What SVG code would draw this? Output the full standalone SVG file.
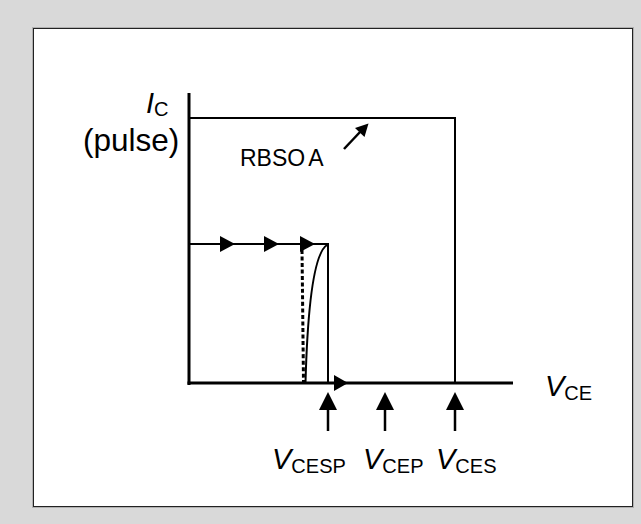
<svg xmlns="http://www.w3.org/2000/svg" width="641" height="524" viewBox="0 0 641 524">
<style>
.ln{stroke:#000;fill:none;stroke-linecap:butt}
.t{font-family:"Liberation Sans",Arial,sans-serif;fill:#000}
.ah{fill:#000;stroke:none}
</style>
<rect x="0" y="0" width="641" height="524" fill="#d9d9d9"/>
<g id="frame">
<rect x="32.5" y="27.5" width="601" height="480" fill="none" stroke="#b0b0b0" stroke-width="1"/>
<rect x="33.5" y="28.5" width="599" height="478" fill="#fff" stroke="#222" stroke-width="1"/>
</g>
<g id="axes">
<line class="ln" x1="189" y1="93" x2="189" y2="385" stroke-width="3"/>
<line class="ln" x1="187.5" y1="383" x2="513" y2="383" stroke-width="3"/>
<polygon class="ah" points="334,375 348,383 334,391"/>
</g>
<g id="rbsoa">
<polyline class="ln" points="189,118 455,118 455,383" stroke-width="2"/>
<text class="t" x="240" y="166" font-size="23">RBSO<tspan dx="3">A</tspan></text>
<line class="ln" x1="344" y1="149" x2="360" y2="132" stroke-width="2.5"/>
<polygon class="ah" points="368.5,123.5 364.5,137 355,128"/>
</g>
<g id="trajectory">
<polyline class="ln" points="189,244 328,244 328,383" stroke-width="2"/>
<polygon class="ah" points="220,236 235,244 220,252"/>
<polygon class="ah" points="264,236 279,244 264,252"/>
<polygon class="ah" points="300,236 315,244 300,252"/>
<path class="ln" d="M302,250 C302.5,290 303,340 303.5,382" stroke-width="3" stroke-dasharray="4 2.5"/>
<path class="ln" d="M327,245 C316,252 308,290 305.5,383" stroke-width="2"/>
</g>
<g id="markers">
<line class="ln" x1="328" y1="408" x2="328" y2="431" stroke-width="2.5"/>
<polygon class="ah" points="328,392 337,410 319,410"/>
<line class="ln" x1="385" y1="408" x2="385" y2="431" stroke-width="2.5"/>
<polygon class="ah" points="385,392 394,410 376,410"/>
<line class="ln" x1="455" y1="408" x2="455" y2="431" stroke-width="2.5"/>
<polygon class="ah" points="455,392 464,410 446,410"/>
</g>
<g id="labels">
<text class="t" x="146" y="113" font-size="29"><tspan font-style="italic">I</tspan><tspan font-size="20" dy="3">C</tspan></text>
<text class="t" x="83" y="151" font-size="31.5">(pulse)</text>
<text class="t" x="545" y="396" font-size="29"><tspan font-style="italic">V</tspan><tspan font-size="20" dy="4">CE</tspan></text>
<text class="t" x="272" y="469" font-size="29"><tspan font-style="italic">V</tspan><tspan font-size="20" dy="4">CESP</tspan></text>
<text class="t" x="363" y="469" font-size="29"><tspan font-style="italic">V</tspan><tspan font-size="20" dy="4">CEP</tspan></text>
<text class="t" x="436" y="469" font-size="29"><tspan font-style="italic">V</tspan><tspan font-size="20" dy="4">CES</tspan></text>
</g>
</svg>
